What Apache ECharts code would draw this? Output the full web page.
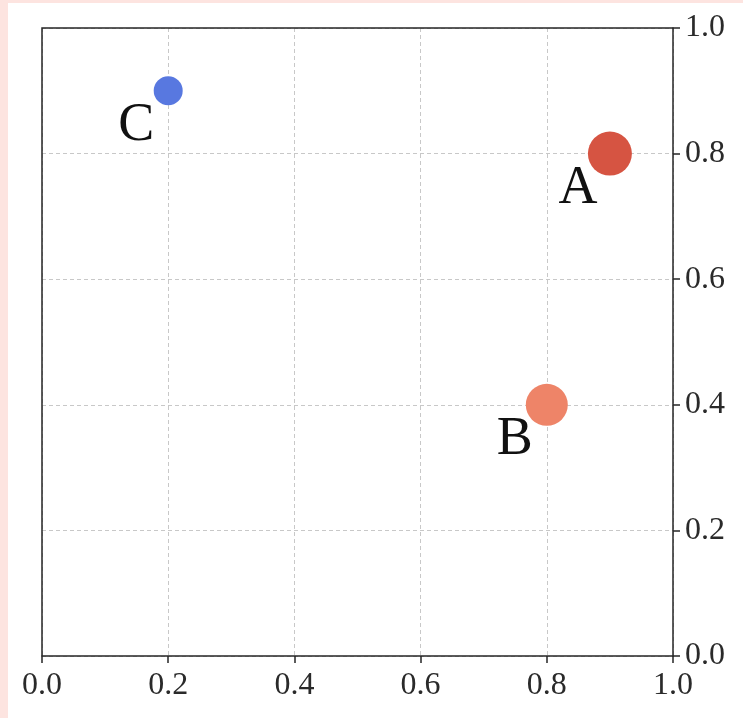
<!DOCTYPE html>
<html>
<head>
<meta charset="utf-8">
<script src="https://cdn.jsdelivr.net/npm/echarts@6/dist/echarts.min.js"></script>
<style>
  html, body { margin: 0; padding: 0; background: #fde4e0; }
  #chart { position: absolute; left: 8px; top: 3px; width: 735px; height: 715px; background: #fff; }
</style>
</head>
<body>
<div id="chart"></div>
<script>
// point data
const names = ["A", "B", "C"];
const xs = [0.9, 0.8, 0.2];
const ys = [0.8, 0.4, 0.9];

// marker look
const colors = { A: "#d65442", B: "#ee8468", C: "#5878e0" };
const sizes = { A: 44, B: 42, C: 29 };

const serif = "'Liberation Serif', 'DejaVu Serif', serif";

const chart = echarts.init(document.getElementById("chart"));

const option = {
  animation: false,
  grid: { left: 34, right: 70, top: 25, bottom: 62 },
  xAxis: {
    type: "value",
    min: 0,
    max: 1,
    interval: 0.2,
    axisLine: { show: true, onZero: false, lineStyle: { color: "#262626", width: 1.5 } },
    axisTick: { show: true, length: 7, lineStyle: { color: "#262626", width: 1.5 } },
    axisLabel: {
      margin: 14,
      fontFamily: serif,
      fontSize: 32,
      color: "#2a2a2a",
      formatter: (v) => v.toFixed(1),
    },
    splitLine: { show: true, lineStyle: { color: "#c8c8c8", type: [4, 3], width: 1 } },
  },
  yAxis: {
    type: "value",
    position: "right",
    min: 0,
    max: 1,
    interval: 0.2,
    axisLine: { show: true, onZero: false, lineStyle: { color: "#262626", width: 1.5 } },
    axisTick: { show: true, length: 7, lineStyle: { color: "#262626", width: 1.5 } },
    axisLabel: {
      margin: 12,
      fontFamily: serif,
      fontSize: 32,
      color: "#2a2a2a",
      formatter: (v) => v.toFixed(1),
    },
    splitLine: { show: true, lineStyle: { color: "#c8c8c8", type: [4, 3], width: 1 } },
  },
  graphic: [
    // left and top spines
    {
      type: "polyline",
      shape: { points: [[34, 653], [34, 25], [665, 25]] },
      style: { stroke: "#262626", lineWidth: 1.5, fill: null },
      z: 10,
    },
  ],
  series: [
    {
      type: "scatter",
      data: names.map((n, i) => ({
        name: n,
        value: [xs[i], ys[i]],
        symbolSize: sizes[n],
        itemStyle: { color: colors[n], opacity: 1 },
      })),
      label: {
        show: true,
        formatter: (p) => p.name,
        position: "inside",
        offset: [-32, 35],
        fontFamily: serif,
        fontSize: 54,
        color: "#111",
      },
    },
  ],
};

chart.setOption(option);
</script>
</body>
</html>
